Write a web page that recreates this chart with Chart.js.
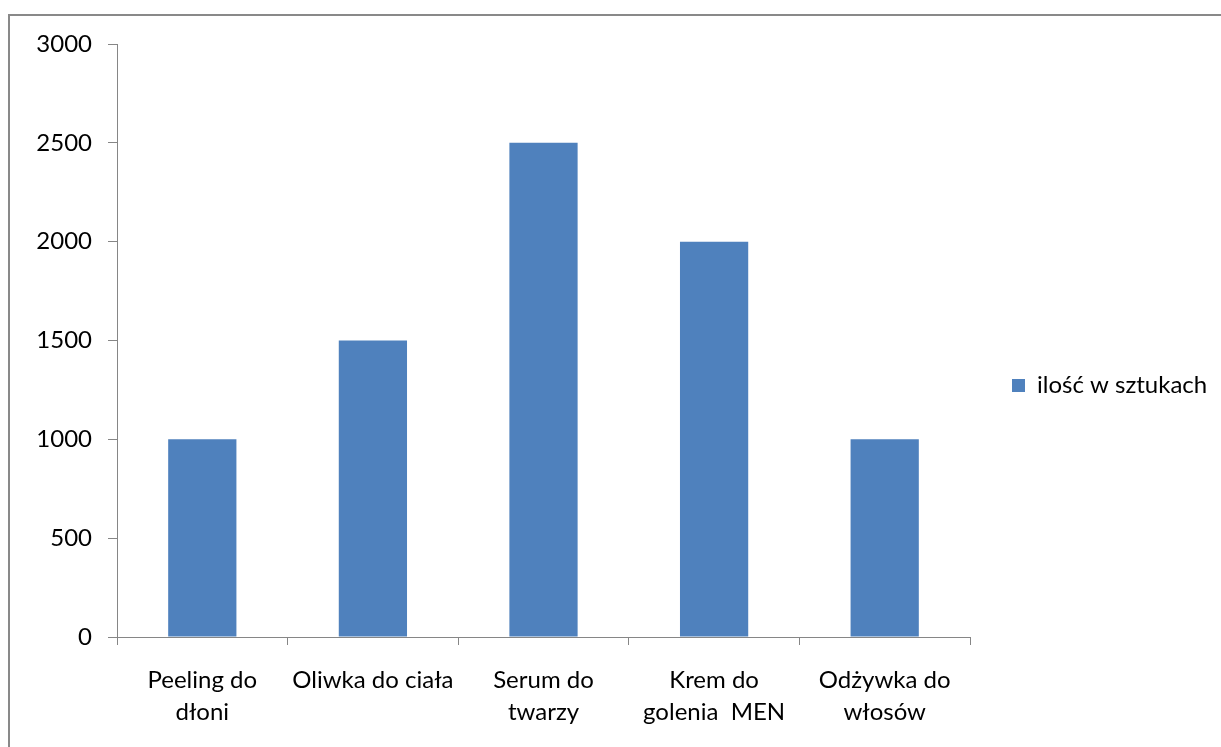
<!DOCTYPE html>
<html>
<head>
<meta charset="utf-8">
<script src="https://cdn.jsdelivr.net/npm/chart.js@4.4.1/dist/chart.umd.min.js"></script>
<style>
  html, body { margin:0; padding:0; background:#fff; overflow:hidden; }
  #frame { position:absolute; left:8px; top:14px; width:1400px; height:900px; border:2px solid #898989; box-sizing:border-box; }
  #wrap { position:absolute; left:0; top:0; width:1221px; height:747px; }
</style>
</head>
<body>
<div id="frame"></div>
<div id="wrap"><canvas id="c"></canvas></div>
<script>
const categories = [
  ["Peeling do", "dłoni"],
  "Oliwka do ciała",
  ["Serum do", "twarzy"],
  ["Krem do", "golenia  MEN"],
  ["Odżywka do", "włosów"]
];
const seriesName = "ilość w sztukach";
const seriesValues = [1000, 1500, 2500, 2000, 1000];
const yMin = 0, yMax = 3000, yStep = 500;

const FONT = "Lato, 'Open Sans', sans-serif";
const AXIS = '#868686';

const legendShift = {
  id: 'legendShift',
  afterLayout(chart) {
    const lg = chart.legend;
    if (lg) { lg.top -= 10; lg.bottom -= 10; lg.left -= 8; lg.right -= 8; }
  }
};

new Chart(document.getElementById('c'), {
  type: 'bar',
  data: {
    labels: categories,
    datasets: [{
      label: seriesName,
      data: seriesValues,
      backgroundColor: '#4F81BD',
      borderWidth: 0,
      barPercentage: 0.4,
      categoryPercentage: 1.0
    }]
  },
  options: {
    responsive: true,
    maintainAspectRatio: false,
    animation: false,
    layout: { padding: { left: 0, top: 44, right: 0, bottom: 0 } },
    plugins: {
      tooltip: { enabled: false },
      legend: {
        position: 'right',
        maxWidth: 251,
        labels: {
          boxWidth: 13,
          boxHeight: 13,
          padding: 50,
          color: '#000',
          font: { family: FONT, size: 24 }
        }
      }
    },
    scales: {
      x: {
        afterFit(s) { s.height = 110; },
        grid: { drawOnChartArea: false, drawTicks: true, tickLength: 8, color: AXIS, offset: true },
        border: { color: AXIS, width: 1 },
        ticks: { color: '#000', padding: 19, maxRotation: 0, autoSkip: false, font: { family: FONT, size: 24, lineHeight: 1.34 } }
      },
      y: {
        min: yMin, max: yMax,
        afterFit(s) { s.width = 117; },
        grid: { drawOnChartArea: false, drawTicks: true, tickLength: 9, color: AXIS },
        border: { color: AXIS, width: 1 },
        ticks: { stepSize: yStep, color: '#000', padding: 16, font: { family: FONT, size: 24 },
                 callback: (v) => String(v) }
      }
    }
  },
  plugins: [legendShift]
});
</script>
</body>
</html>
